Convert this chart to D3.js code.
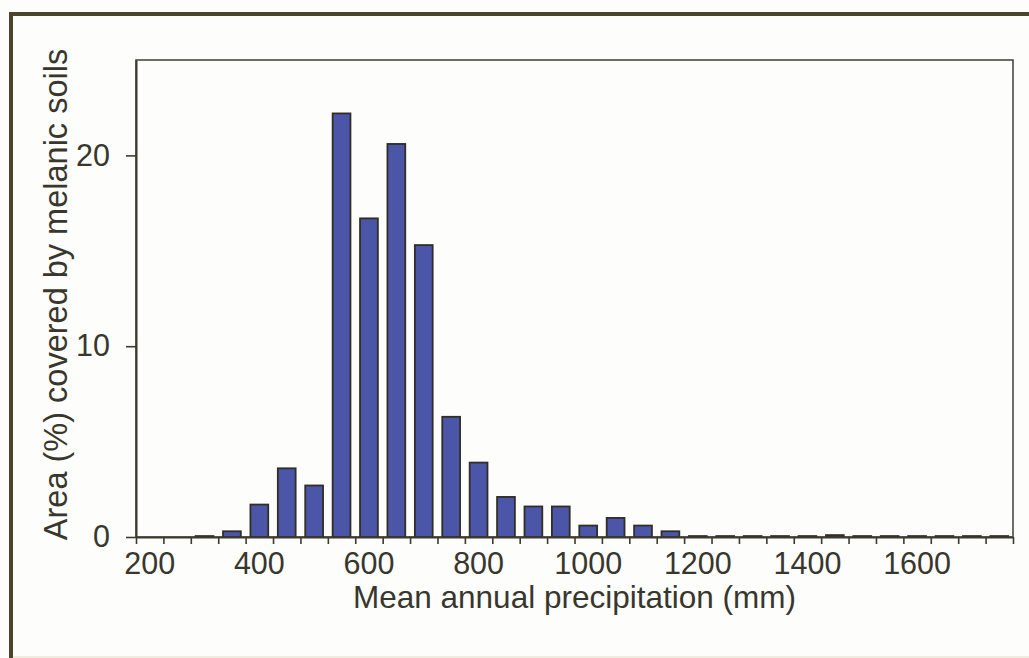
<!DOCTYPE html>
<html>
<head>
<meta charset="utf-8">
<script src="https://cdn.jsdelivr.net/npm/d3@7"></script>
<style>
  html, body { margin: 0; padding: 0; background: #fdfdfb; }
  svg { display: block; }
  text { font-family: "Liberation Sans", Arial, sans-serif; fill: #38372e; }
</style>
</head>
<body>
<svg id="chart" width="1029" height="658"></svg>
<script>
// Precipitation classes (mm), 50 mm wide
const categories = [200, 250, 300, 350, 400, 450, 500, 550, 600, 650, 700, 750,
                    800, 850, 900, 950, 1000, 1050, 1100, 1150, 1200, 1250, 1300, 1350,
                    1400, 1450, 1500, 1550, 1600, 1650, 1700, 1750];
// Share of the area covered by melanic soils (%)
const areaPct = [0, 0, 0.05, 0.3, 1.7, 3.6, 2.7, 22.2, 16.7, 20.6, 15.3, 6.3,
                 3.9, 2.1, 1.6, 1.6, 0.6, 1.0, 0.6, 0.3, 0.05, 0.05, 0.05, 0.05,
                 0.05, 0.1, 0.05, 0.05, 0.05, 0.05, 0.05, 0.05];
const xTickLabels = [200, 400, 600, 800, 1000, 1200, 1400, 1600];
const yTickLabels = [0, 10, 20];
const yMax = 25;

const svg = d3.select("#chart");
const W = 1029, H = 658;
const plot = { left: 136, right: 1013, top: 60, bottom: 537 };

// Outer frame (right and bottom edges run past the page)
svg.append("rect")
  .attr("x", 11).attr("y", 14)
  .attr("width", W + 20).attr("height", H + 20)
  .attr("fill", "none").attr("stroke", "#4b4629").attr("stroke-width", 4);
svg.append("line")
  .attr("x1", 13).attr("x2", W).attr("y1", 657).attr("y2", 657)
  .attr("stroke", "#f0ecde").attr("stroke-width", 2);

const pad = 0.35;
const x = d3.scaleBand()
  .domain(categories)
  .range([plot.left, plot.right])
  .paddingInner(pad)
  .paddingOuter(pad / 2);

const y = d3.scaleLinear().domain([0, yMax]).range([plot.bottom, plot.top]);

// Plot area frame
svg.append("rect")
  .attr("x", plot.left).attr("y", plot.top)
  .attr("width", plot.right - plot.left).attr("height", plot.bottom - plot.top)
  .attr("fill", "none").attr("stroke", "#4a4940").attr("stroke-width", 1.6);

// Bars
svg.append("g").selectAll("rect")
  .data(categories.map((c, i) => ({ c, v: areaPct[i] })))
  .join("rect")
  .attr("x", d => x(d.c))
  .attr("width", x.bandwidth())
  .attr("y", d => y(d.v))
  .attr("height", d => y(0) - y(d.v))
  .attr("fill", "#4b56a8")
  .attr("stroke", "#302e25")
  .attr("stroke-width", 1.8);

// X axis: tick marks on class boundaries
const half = (x.step() - x.bandwidth()) / 2;
const boundaries = categories.map(c => x(c) - half).concat([x(categories[categories.length - 1]) + x.bandwidth() + half]);
const xEdge = d3.scaleLinear().domain([plot.left, plot.right]).range([plot.left, plot.right]);
const gTicks = svg.append("g")
  .attr("transform", `translate(0,${plot.bottom})`)
  .call(d3.axisBottom(xEdge).tickValues(boundaries).tickSize(7).tickSizeOuter(0).tickFormat(""));
gTicks.select(".domain").attr("stroke", "#3d3b2c").attr("stroke-width", 2);
gTicks.selectAll(".tick line").attr("stroke", "#3d3b2c").attr("stroke-width", 1.6);

// X axis labels centred on every fourth class
const gXLab = svg.append("g")
  .attr("transform", `translate(0,${plot.bottom})`)
  .call(d3.axisBottom(x).tickValues(xTickLabels).tickSize(0).tickPadding(15));
gXLab.select(".domain").remove();
gXLab.selectAll("text").style("font-size", "30.5px").style("font-family", '"Liberation Sans", Arial, sans-serif').attr("fill", "#38372e");

// Y axis
const gY = svg.append("g")
  .attr("transform", `translate(${plot.left},0)`)
  .call(d3.axisLeft(y).tickValues(yTickLabels).tickSize(10).tickPadding(16).tickSizeOuter(0));
gY.select(".domain").attr("stroke", "#3d3b2c").attr("stroke-width", 2);
gY.selectAll(".tick line").attr("stroke", "#3d3b2c").attr("stroke-width", 1.6);
gY.selectAll("text").style("font-size", "30.5px").style("font-family", '"Liberation Sans", Arial, sans-serif').attr("fill", "#38372e");

// Axis titles
svg.append("text")
  .attr("x", (plot.left + plot.right) / 2)
  .attr("y", 608)
  .attr("text-anchor", "middle")
  .style("font-size", "31.5px")
  .text("Mean annual precipitation (mm)");

svg.append("text")
  .attr("transform", `translate(67,${(plot.top + plot.bottom) / 2 - 4}) rotate(-90)`)
  .attr("text-anchor", "middle")
  .style("font-size", "32.5px")
  .text("Area (%) covered by melanic soils");
</script>
</body>
</html>
